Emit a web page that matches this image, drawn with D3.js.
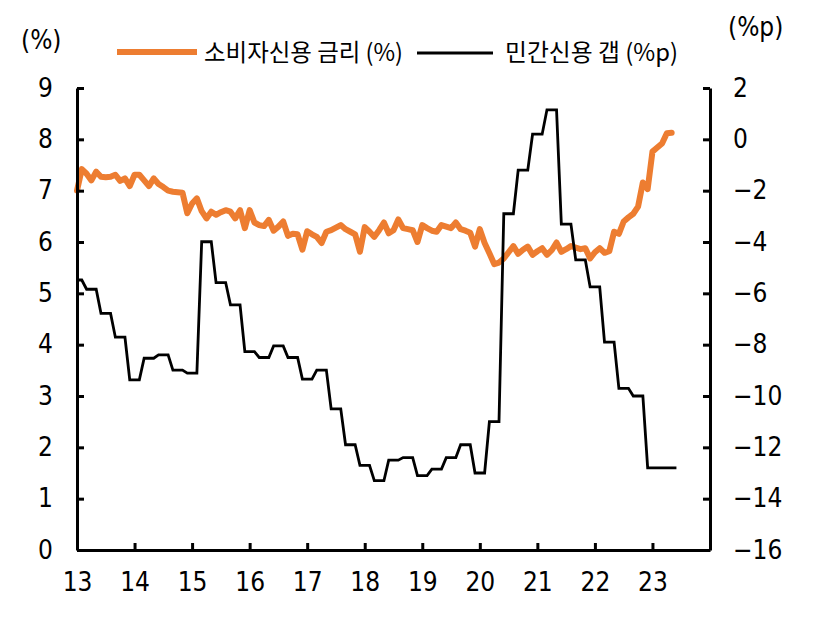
<!DOCTYPE html>
<html><head><meta charset="utf-8">
<script src="https://cdn.jsdelivr.net/npm/d3@7"></script>
<style>body{margin:0;background:#fff}</style>
</head><body>
<svg id="chart" width="815" height="617"></svg>
<script>
// ---- data ----
const yearLabels = ["13","14","15","16","17","18","19","20","21","22","23"];
const leftTicks = [0,1,2,3,4,5,6,7,8,9];
const rightTicks = [-16,-14,-12,-10,-8,-6,-4,-2,0,2];
const legendLabels = ["소비자신용 금리 (%)", "민간신용 갭 (%p)"];
const leftUnit = "(%)";
const rightUnit = "(%p)";
// 소비자신용 금리 (%), monthly from Jan 2013
const rateValues = [
  7.0,7.42,7.33,7.2,7.37,7.27,7.26,7.27,7.31,7.19,7.24,7.09,
  7.31,7.31,7.2,7.09,7.24,7.13,7.07,7.0,6.98,6.97,6.96,6.56,
  6.75,6.85,6.6,6.46,6.59,6.53,6.58,6.62,6.59,6.46,6.62,6.27,
  6.62,6.38,6.33,6.31,6.43,6.22,6.3,6.4,6.12,6.16,6.15,5.85,
  6.21,6.15,6.1,5.98,6.2,6.23,6.28,6.33,6.25,6.2,6.15,5.81,
  6.29,6.2,6.1,6.23,6.38,6.17,6.23,6.44,6.27,6.25,6.23,6.0,
  6.33,6.27,6.22,6.2,6.33,6.3,6.27,6.38,6.25,6.22,6.18,5.91,
  6.25,5.98,5.78,5.57,5.6,5.68,5.8,5.92,5.77,5.85,5.91,5.75,
  5.82,5.88,5.75,5.84,5.99,5.81,5.86,5.92,5.89,5.86,5.88,5.68,
  5.8,5.88,5.79,5.82,6.2,6.16,6.4,6.48,6.55,6.69,7.16,7.03,
  7.76,7.84,7.92,8.12,8.13
];
// 민간신용 갭 (%p), quarterly levels
const gapValues = [
  -5.48,-5.84,-6.78,-7.71,-9.37,-8.53,-8.4,-8.99,-9.11,-3.99,
  -5.58,-6.45,-8.27,-8.5,-8.05,-8.5,-9.34,-8.99,-10.5,-11.9,
  -12.7,-13.3,-12.5,-12.4,-13.1,-12.85,-12.4,-11.9,-13.0,-11.0,
  -2.9,-1.2,0.2,1.15,-3.3,-4.7,-5.75,-7.9,-9.7,-10.0,-12.8
];

// ---- layout ----
const L = 77, R = 710, T = 88, B = 550;
const numFont = "'Liberation Sans Narrow','DejaVu Sans Condensed','Noto Sans CJK KR',sans-serif";
const svg = d3.select("#chart");

const x = d3.scaleLinear().domain([0, 132]).range([L, R]);
const yL = d3.scaleLinear().domain([0, 9]).range([B, T]);
const yR = d3.scaleLinear().domain([-16, 2]).range([B, T]);

// series
const ratePts = rateValues.map((v, i) => [i, v]);
const gapPts = [];
gapValues.forEach((v, k) => {
  if (k === 0) { gapPts.push([0, v], [1, v]); }
  else {
    const s = 3 * k - 1;
    const e = k === gapValues.length - 1 ? rateValues.length : 3 * k + 1;
    gapPts.push([s, v], [e, v]);
  }
});

svg.append("path").datum(ratePts)
  .attr("fill", "none").attr("stroke", "#ED7D31").attr("stroke-width", 6)
  .attr("stroke-linejoin", "round").attr("stroke-linecap", "round")
  .attr("d", d3.line().x(d => x(d[0])).y(d => yL(d[1])));

svg.append("path").datum(gapPts)
  .attr("fill", "none").attr("stroke", "#000").attr("stroke-width", 2.8)
  .attr("d", d3.line().x(d => x(d[0])).y(d => yR(d[1])));

// axes
function styleAxis(g) {
  g.select(".domain").attr("stroke", "#000").attr("stroke-width", 3);
  g.selectAll(".tick line").attr("stroke", "#000").attr("stroke-width", 3);
  g.selectAll(".tick text").attr("font-family", numFont).attr("font-size", 26).attr("fill", "#000");
}
svg.append("g").attr("transform", `translate(${L},0)`)
  .call(d3.axisLeft(yL).tickValues(leftTicks).tickSize(-7).tickSizeOuter(0).tickPadding(24).tickFormat(d3.format("d")))
  .call(styleAxis);
svg.append("g").attr("transform", `translate(${R},0)`)
  .call(d3.axisRight(yR).tickValues(rightTicks).tickSize(-7).tickSizeOuter(0).tickPadding(23).tickFormat(d3.format("d")))
  .call(styleAxis);
svg.append("g").attr("transform", `translate(0,${B})`)
  .call(d3.axisBottom(x).tickValues(yearLabels.map((_, i) => i * 12)).tickSize(-7).tickSizeOuter(0).tickPadding(23)
    .tickFormat((d, i) => yearLabels[i]))
  .call(styleAxis);

// units
svg.append("text").attr("x", 21).attr("y", 49).text(leftUnit)
  .attr("font-family", numFont).attr("font-size", 26);
svg.append("text").attr("x", 728).attr("y", 36).text(rightUnit)
  .attr("font-family", numFont).attr("font-size", 26);

// legend
const legColors = ["#ED7D31", "#000"];
const legLine = [[117, 197, 52, 6], [417, 493, 53, 3]];
const legText = [[204, 199], [505, 173]];
legendLabels.forEach((lab, i) => {
  svg.append("line").attr("x1", legLine[i][0]).attr("x2", legLine[i][1])
    .attr("y1", legLine[i][2]).attr("y2", legLine[i][2])
    .attr("stroke", legColors[i]).attr("stroke-width", legLine[i][3]);
  svg.append("text").attr("x", legText[i][0]).attr("y", 61).text(lab)
    .attr("font-family", "'Noto Sans CJK KR',sans-serif").attr("font-size", 24)
    .attr("textLength", legText[i][1]).attr("lengthAdjust", "spacingAndGlyphs");
});
</script>
</body></html>
